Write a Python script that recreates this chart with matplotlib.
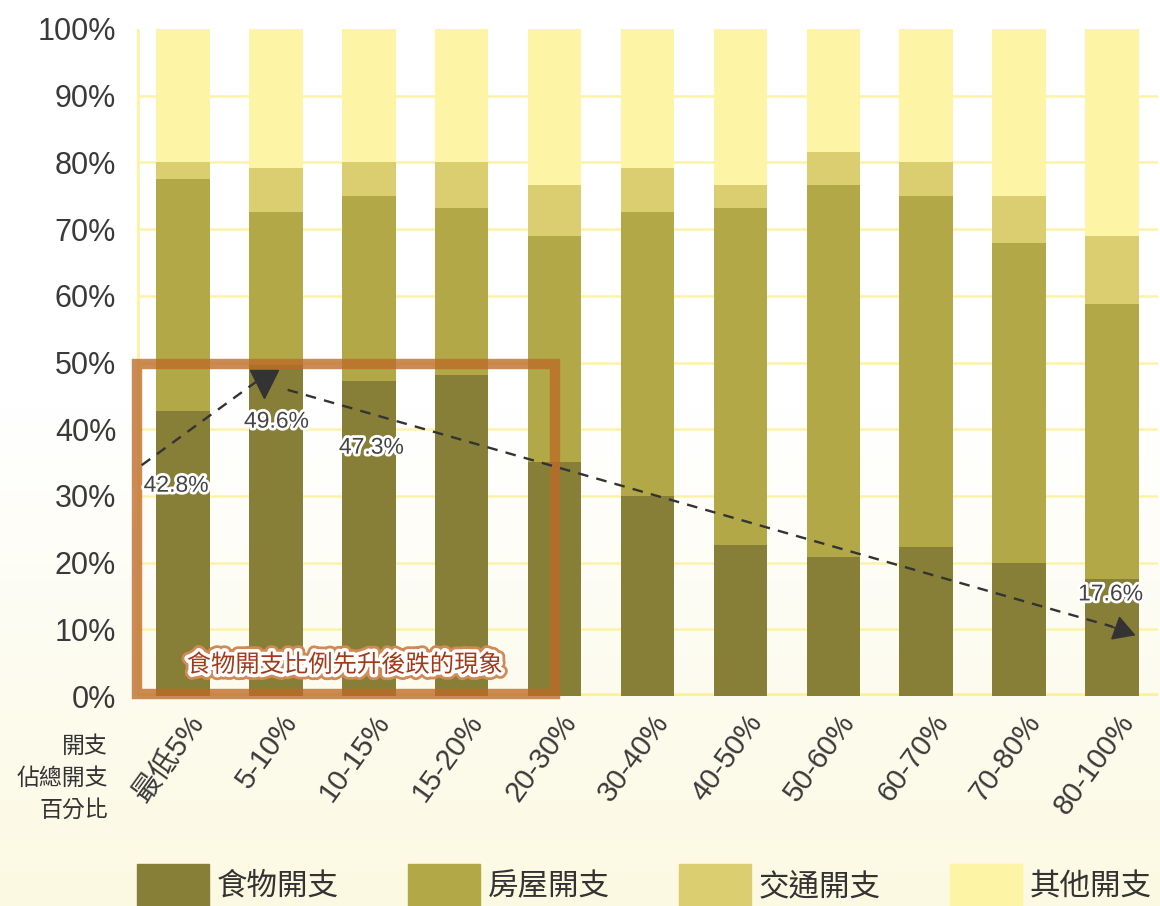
import matplotlib
matplotlib.use("Agg")
import matplotlib.pyplot as plt
import matplotlib.patheffects as pe
from matplotlib.patches import Rectangle
from matplotlib.transforms import ScaledTranslation
import numpy as np

plt.rcParams['font.family'] = ['Liberation Sans', 'Noto Sans CJK TC', 'DejaVu Sans']

# ---------------------------
# Data: share of total spending (%) by spending percentile group
# ---------------------------
groups = ["最低5%", "5-10%", "10-15%", "15-20%", "20-30%", "30-40%",
          "40-50%", "50-60%", "60-70%", "70-80%", "80-100%"]
food = [42.8, 49.6, 47.3, 48.1, 35.1, 30.0, 22.7, 20.8, 22.3, 19.9, 17.6]
housing = [34.7, 23.0, 27.6, 25.0, 33.8, 42.6, 50.4, 55.8, 52.6, 48.0, 41.2]
transport = [2.5, 6.6, 5.1, 6.9, 7.7, 6.6, 3.5, 4.9, 5.1, 7.0, 10.1]
other = [20.0, 20.8, 20.0, 20.0, 23.4, 20.8, 23.4, 18.5, 20.0, 25.1, 31.1]

series_names = ["食物開支", "房屋開支", "交通開支", "其他開支"]
series_colors = ["#877f37", "#b3a847", "#dbce71", "#fdf5a5"]

# food share values that get a callout label, by group index
labelled = {0: 42.8, 1: 49.6, 2: 47.3, 10: 17.6}

fig = plt.figure(figsize=(11.6, 9.06), dpi=100)

# soft cream wash towards the bottom of the page
bg = fig.add_axes([0, 0, 1, 1], zorder=-5)
grad = np.linspace(0, 1, 256)
grad = np.clip((grad - 0.45) / 0.55, 0, 1)[:, None]
top_c = np.array([255, 255, 255]) / 255
bot_c = np.array([252, 249, 226]) / 255
img = top_c[None, None, :] * (1 - grad[:, :, None]) + bot_c[None, None, :] * grad[:, :, None]
bg.imshow(img, aspect='auto', extent=[0, 1, 0, 1], origin='upper')
bg.axis('off')

ax = fig.add_axes([137 / 1160, 210 / 906, 1021 / 1160, 667 / 906])
ax.set_facecolor('none')

x = np.arange(len(groups))
width = 0.58
bottom = np.zeros(len(groups))
for vals, name, col in zip([food, housing, transport, other], series_names, series_colors):
    ax.bar(x, vals, width, bottom=bottom, color=col, label=name, zorder=2, linewidth=0)
    bottom += np.array(vals)

ax.set_xlim(-0.49, 10.49)
ax.set_ylim(0, 100)

# grid and axis lines in pale yellow
for v in range(10, 100, 10):
    ax.axhline(v, color='#fdf3a8', lw=1.8, zorder=1)
ax.axhline(0, color='#fdf09a', lw=4, zorder=1.5)
ax.axvline(-0.49, color='#fdf3a8', lw=3.5, zorder=1)
for s in ax.spines.values():
    s.set_visible(False)

ax.set_yticks(range(0, 101, 10))
ax.set_yticklabels([f"{v}%" for v in range(0, 101, 10)], fontsize=22, color='#3a3a3a')
ax.tick_params(axis='y', length=0, pad=15)
ax.set_xticks(x)
ax.set_xticklabels(groups, fontsize=21, color='#3a3a3a', rotation=54,
                   ha='right', va='center', rotation_mode='anchor')
ax.tick_params(axis='x', length=0, pad=14)
shift = ScaledTranslation(16 / 100, -2 / 100, fig.dpi_scale_trans)
for lab in ax.get_xticklabels():
    lab.set_transform(lab.get_transform() + shift)

# highlight box around the first five groups
box = Rectangle((-0.49, 0.3), 4.49, 49.5, fill=False, edgecolor='#bd6a28',
                lw=7.5, alpha=0.78, zorder=4, clip_on=False)
ax.add_patch(box)
ax.text(1.74, 4.6, "食物開支比例先升後跌的現象", fontsize=17.5, color='#a3391a',
        ha='center', va='center', zorder=6,
        path_effects=[pe.withStroke(linewidth=9, foreground='#d08a55'),
                      pe.withStroke(linewidth=5, foreground='white')])

# dashed trend arrows
dash = (0, (4.5, 3.5))
ax.plot([-0.44, 0.83], [34.6, 47.5], color='#333333', lw=1.7, ls=dash, zorder=5, clip_on=False)
ax.plot([0.88], [46.8], marker='v', ms=20, color='#333333', zorder=5, clip_on=False)
ax.plot([1.13, 10.0], [45.9, 10.4], color='#333333', lw=1.7, ls=dash, zorder=5)
ax.annotate('', xy=(10.25, 9.1), xytext=(9.95, 10.6),
            arrowprops=dict(arrowstyle='-|>,head_length=1.4,head_width=0.8',
                            color='#333333', lw=1.2, shrinkA=0, shrinkB=0), zorder=5)

label_pos = {0: (-0.07, 31.6), 1: (1.01, 41.2), 2: (2.03, 37.3), 10: (9.98, 15.3)}
for i, v in labelled.items():
    lx, ly = label_pos[i]
    ax.text(lx, ly, f"{v}%", fontsize=16.5, color='#444444', ha='center', va='center', zorder=6,
            path_effects=[pe.withStroke(linewidth=4, foreground='white')])

fig.text(108 / 1160, (906 - 778) / 906, "開支\n佔總開支\n百分比", fontsize=16.5, color='#333333',
         ha='right', va='center', multialignment='right', linespacing=1.5)

# legend row
for i, (name, col) in enumerate(zip(series_names, series_colors)):
    x0 = 137 + i * 271
    fig.patches.append(Rectangle((x0 / 1160, -0.01), 72 / 1160, (906 - 864) / 906 + 0.01,
                                 transform=fig.transFigure, color=col, zorder=1))
    fig.text((x0 + 80) / 1160, (906 - 887) / 906, name, fontsize=22, color='#333333',
             ha='left', va='center')

fig.savefig("out.png", dpi=100)
